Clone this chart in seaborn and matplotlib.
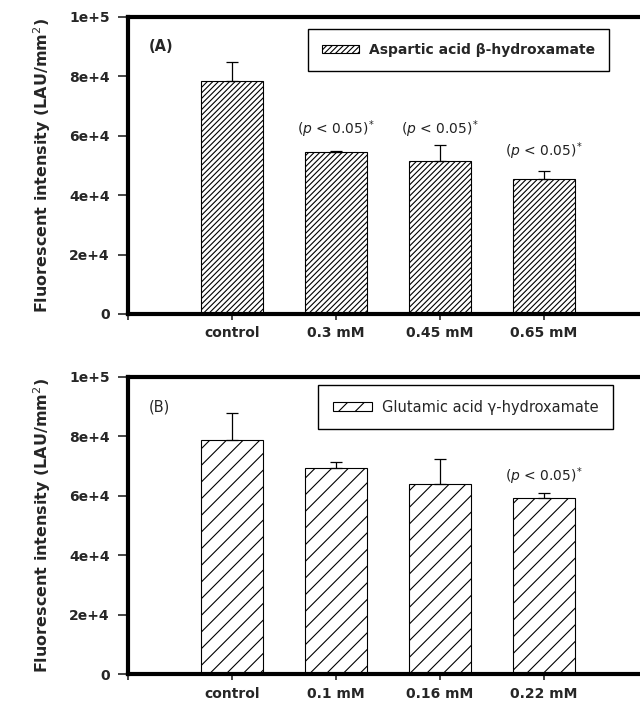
import numpy as np
import pandas as pd
import matplotlib.pyplot as plt
import seaborn as sns
from matplotlib.patches import Patch

# Data
labels_a = ["control", "0.3 mM", "0.45 mM", "0.65 mM"]
means_a = [78500, 54500, 51500, 45300]
errs_a = [6300, 500, 5400, 2700]
sig_a = [False, True, True, True]

labels_b = ["control", "0.1 mM", "0.16 mM", "0.22 mM"]
means_b = [78800, 69400, 64000, 59400]
errs_b = [9000, 1900, 8500, 1600]
sig_b = [False, False, False, True]

yticks = [0, 20000, 40000, 60000, 80000, 100000]
ytick_labels = ["0", "2e+4", "4e+4", "6e+4", "8e+4", "1e+5"]

sns.set_style("white")
plt.rcParams["font.family"] = ["DejaVu Sans"]
plt.rcParams["hatch.linewidth"] = 0.8

fig = plt.figure(figsize=(6.4, 7.04), dpi=100)
ax1 = fig.add_axes([0.2, 0.554, 0.8125, 0.422])
ax2 = fig.add_axes([0.2, 0.0426, 0.8125, 0.422])


def draw_panel(ax, labels, means, errs, sig, hatch, tag, tag_bold,
               legend_label, legend_bold, legend_size, legend_xy, sig_y):
    df = pd.DataFrame({"group": labels, "value": means})
    sns.barplot(data=df, x="group", y="value", ax=ax, order=labels,
                color="white", saturation=1, edgecolor="black",
                linewidth=0.8, width=0.6, errorbar=None)
    for p in ax.patches:
        p.set_hatch(hatch)

    pos = np.arange(len(labels))
    ax.errorbar(pos, means, yerr=[np.zeros(len(errs)), errs], fmt="none",
                ecolor="black", elinewidth=0.9, capsize=4.5, capthick=0.9)

    for x, m, e, s in zip(pos, means, errs, sig):
        if s:
            ax.text(x, sig_y[x], r"($\mathit{p}$ < 0.05)$^{*}$",
                    ha="center", va="bottom", fontsize=10, color="#222222")

    ax.set_xlim(-1, 4)
    ax.set_ylim(0, 100000)
    ax.set_xticks([-1, 0, 1, 2, 3, 4])
    ax.set_xticklabels([""] + labels + [""], fontsize=10, fontweight="bold")
    ax.set_yticks(yticks)
    ax.set_yticklabels(ytick_labels, fontsize=10, fontweight="bold")
    ax.tick_params(axis="y", direction="out", length=7, width=1.2, pad=6,
                   left=True)
    ax.tick_params(axis="x", direction="out", length=4, width=1.2, pad=5,
                   bottom=True)
    ax.set_xlabel("")
    ax.set_ylabel("Fluorescent intensity (LAU/mm$^2$)", fontsize=11.5,
                  fontweight="bold", labelpad=12)
    for side in ["left", "top", "bottom", "right"]:
        ax.spines[side].set_linewidth(3)
        ax.spines[side].set_color("black")

    ax.text(0.04, 0.9, tag, transform=ax.transAxes, fontsize=10.5,
            fontweight="bold" if tag_bold else "normal", va="center")

    handle = Patch(facecolor="white", edgecolor="black", hatch=hatch,
                   linewidth=0.8, label=legend_label)
    leg = ax.legend(handles=[handle], loc="upper left",
                    bbox_to_anchor=legend_xy, bbox_transform=fig.transFigure,
                    borderaxespad=0, frameon=True, fancybox=False,
                    framealpha=1, edgecolor="black", borderpad=1.0,
                    handlelength=2.7, handleheight=0.6, handletextpad=0.7,
                    prop={"size": legend_size,
                          "weight": "bold" if legend_bold else "normal"})
    leg.get_frame().set_linewidth(1.0)


draw_panel(ax1, labels_a, means_a, errs_a, sig_a, "//////", "(A)", True,
           "Aspartic acid β-hydroxamate", True, 10,
           (308 / 640, 1 - 29 / 704), {1: 58500, 2: 58500, 3: 51000})
draw_panel(ax2, labels_b, means_b, errs_b, sig_b, "//", "(B)", False,
           "Glutamic acid γ-hydroxamate", False, 10.5,
           (318 / 640, 1 - 385 / 704), {3: 63000})

fig.savefig("out.png", dpi=100)
